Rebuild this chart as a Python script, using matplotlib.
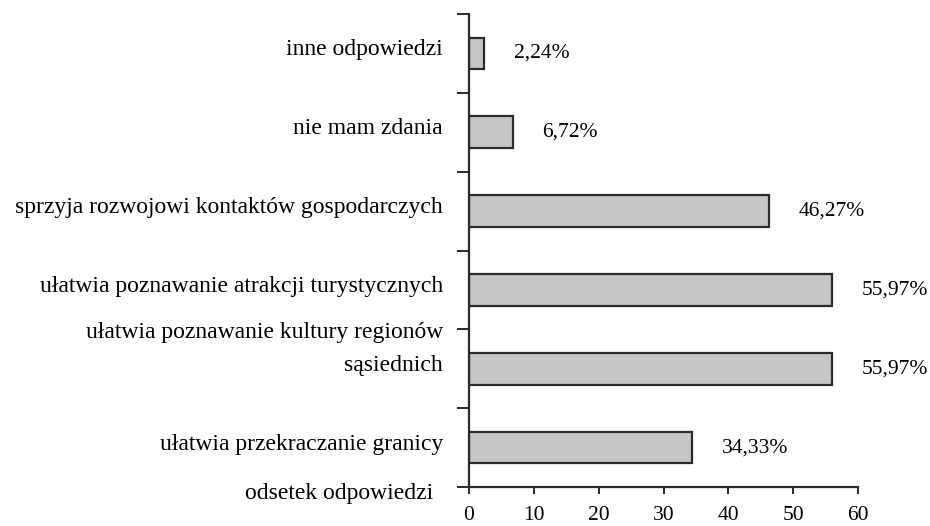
import matplotlib
matplotlib.use("Agg")
import matplotlib.pyplot as plt
import matplotlib.transforms as mtransforms
import numpy as np

# data, bottom to top as drawn
categories = [
    "ułatwia przekraczanie granicy",
    "ułatwia poznawanie kultury regionów\nsąsiednich",
    "ułatwia poznawanie atrakcji turystycznych",
    "sprzyja rozwojowi kontaktów gospodarczych",
    "nie mam zdania",
    "inne odpowiedzi",
]
values = [34.33, 55.97, 55.97, 46.27, 6.72, 2.24]
value_labels = ["34,33%", "55,97%", "55,97%", "46,27%", "6,72%", "2,24%"]
xticks = [0, 10, 20, 30, 40, 50, 60]
axis_title = "odsetek odpowiedzi"

plt.rcParams["font.family"] = ["Liberation Serif", "DejaVu Serif"]
dark = "#2b2b2b"

fig = plt.figure(figsize=(9.3, 5.26), dpi=100)
ax = fig.add_axes([0.5043, 0.0741, 0.4183, 0.8993])

y = np.arange(len(categories))
ax.barh(y, values, height=0.4, color="#c6c6c6", edgecolor=dark, linewidth=1.6)

ax.set_xlim(0, 60)
ax.set_ylim(-0.5, len(categories) - 0.5)

for s in ["top", "right"]:
    ax.spines[s].set_visible(False)
for s in ["left", "bottom"]:
    ax.spines[s].set_color(dark)
    ax.spines[s].set_linewidth(1.6)

ax.set_xticks(xticks)
ax.set_xticklabels([str(t) for t in xticks], fontsize=15.5)
ax.tick_params(axis="x", direction="out", length=5, width=1.4, color=dark, pad=9)

# ticks between categories on the y axis
ax.set_yticks([])
ax.set_yticks(np.arange(-0.5, len(categories)), minor=True)
ax.tick_params(axis="y", which="minor", direction="out", length=9, width=1.4,
               color=dark)

# category labels, bottom of text just below bar centre
lab_tr = mtransforms.blended_transform_factory(ax.transAxes, ax.transData)
lab_tr = lab_tr + mtransforms.ScaledTranslation(-26 / 100, -7 / 100,
                                                fig.dpi_scale_trans)
for yi, cat in zip(y, categories):
    ax.text(0, yi, cat, transform=lab_tr, ha="right", va="bottom",
            multialignment="right", fontsize=17, linespacing=1.75)

# value labels
val_tr = ax.transData + mtransforms.ScaledTranslation(30 / 100, 0,
                                                      fig.dpi_scale_trans)
for yi, v, lab in zip(y, values, value_labels):
    ax.text(v, yi, lab, transform=val_tr, ha="left", va="center", fontsize=15.5)

fig.text(433 / 930, 1 - 493 / 526, axis_title, ha="right", va="center",
         fontsize=17)

fig.savefig("out.png", dpi=100)
